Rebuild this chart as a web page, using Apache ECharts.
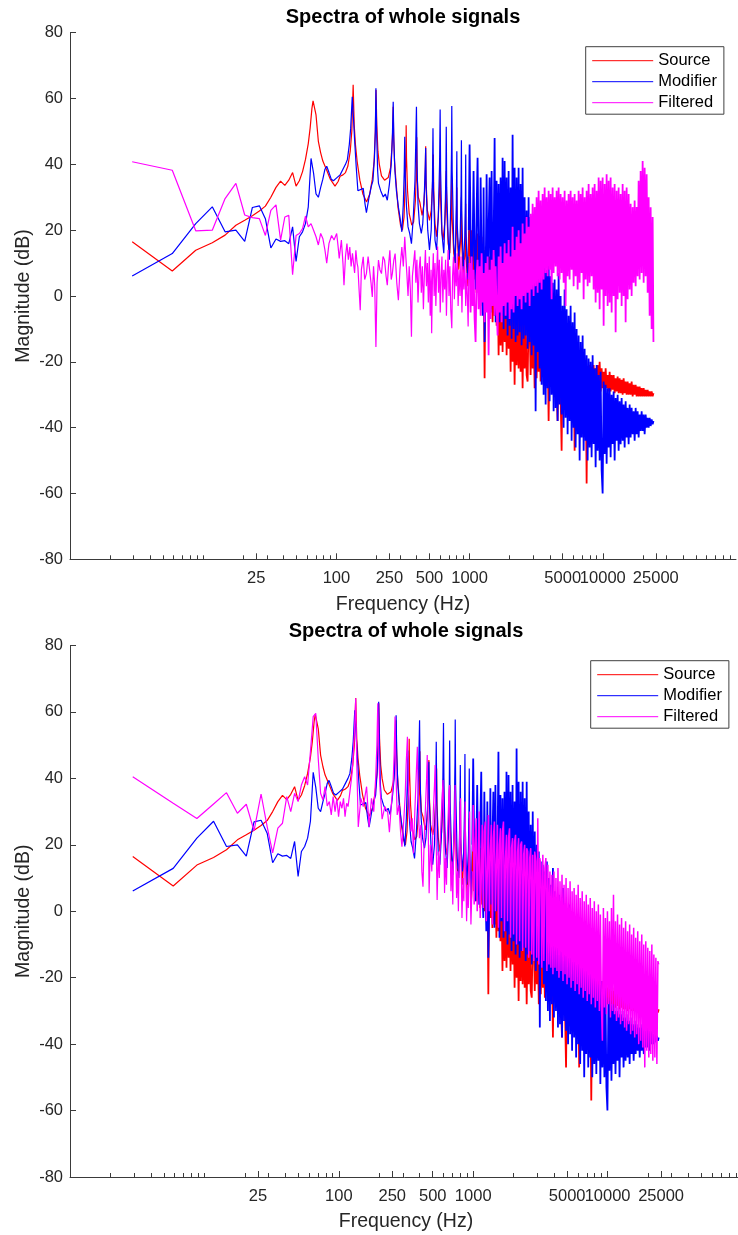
<!DOCTYPE html>
<html>
<head>
<meta charset="utf-8">
<title>Spectra of whole signals</title>
<script src="https://cdn.jsdelivr.net/npm/echarts@6/dist/echarts.min.js"></script>
<style>
  html, body { margin: 0; padding: 0; background: #ffffff; }
  #chart { width: 738px; height: 1235px; }
</style>
</head>
<body>
<div id="chart"></div>
<script>
// ---- axis ticks ----
const majorTicksHz = [25, 100, 250, 500, 1000, 5000, 10000, 25000];
const minorTicksHz = [2, 3, 4, 5, 6, 7, 8, 9, 10, 20, 30, 40, 50, 60, 70, 80, 90,
  200, 300, 400, 600, 700, 800, 900, 2000, 3000, 4000, 6000, 7000, 8000, 9000,
  20000, 30000, 40000, 50000, 60000, 70000, 80000, 90000];
const legendNames = ['Source', 'Modifier', 'Filtered'];

// ---- spectra below 1 kHz: [Hz, dB] ----
const sourceLow = [[2.93,16.5],[5.86,7.6],[8.79,13.9],[11.7,16.2],[14.6,18.5],[17.6,21.5],[20.5,23],[23.4,24.4],[26.4,25.8],[29.3,27.3],[32.2,30],[35.2,33],[38.1,34.9],[41,33.6],[43.9,35.2],[46.9,37.5],[49.8,33.4],[52.7,35],[55.7,37.8],[58.6,41.5],[61.5,46.3],[63.5,51],[65.5,57],[66.8,59.3],[68.5,59],[70.3,55],[73.2,47],[76.2,43.5],[79.1,41],[84.6,38.2],[90,35.5],[97.6,33.4],[103,34.8],[106.6,36.4],[112,36.8],[117,37.5],[122,39.5],[127,44],[130.5,50],[133.6,64.2],[136,52],[139,46],[143,41],[150,35.2],[158,31],[168.5,28.6],[178,31],[186,35.5],[192,41],[196,50],[198.4,62.6],[201,52],[205,44],[210,40],[218,36.5],[230,35.2],[245,36],[255,39],[261,45],[264.5,50],[266.8,57.5],[269,49],[273,41],[280,35],[290,27],[303,21.5],[313,20],[322,24],[329,36],[333,44],[334,51.9],[336,42],[342,32],[352,25],[368,21.5],[380,22.5],[392,29],[398,37],[401,48.2],[404,36],[412,30],[423,28.5],[440,24.5],[455,28],[464,36],[468,45.5],[471,35],[482,26],[500,23],[515,26],[526,33],[534,43],[538,32],[550,22],[565,18],[582,24],[594,32],[601,40],[605,30],[618,20],[632,17],[650,22],[662,30],[668,38],[672,27],[690,16],[710,13],[726,24],[735,36],[739,24],[760,13],[780,10],[795,22],[802,33],[806,20],[830,8],[855,17],[868,30],[872,16],[900,5],[925,14],[935,28],[940,12],[970,3],[990,12]];

const modifierLow = [[2.93,6.1],[5.86,12.9],[8.79,22],[11.7,27.1],[14.6,19.5],[17.6,20],[20.5,16.6],[23.4,26.9],[26.4,27.4],[29.3,23.5],[32.2,14.6],[35.2,17.3],[38.1,16.6],[41,16.8],[43.9,15.9],[46.9,21],[49.8,10.5],[52.7,18],[55.7,19.5],[58.6,22],[61.5,27.1],[64.5,41.8],[67.4,37.3],[70.3,31],[73.2,30],[76.2,33],[79.1,35.5],[82,38.5],[84.6,39.4],[88,37.5],[91.5,35.5],[95,35],[100,35.8],[106.6,36.8],[112,38.5],[117,40],[121,41.5],[125,46],[128,51],[131.5,60.5],[134,55],[137,47.3],[141,39],[145,32],[150,31.8],[159,32.7],[164,28],[168,25.3],[175,29.5],[183,33.4],[188,35],[193,42],[196,50],[198,63.1],[201,48],[204,38],[207,34.2],[215,32],[225,30.1],[233,31],[241,29.1],[250,34],[258,40],[263,48],[267,59],[270,47],[275,38],[282,32.1],[292,27],[300,24],[310,19.5],[318,28],[323,38],[326,48.4],[329,36],[336,27],[345,21],[355,19],[366,15.9],[378,24],[389,35],[395,48],[399,57.5],[403,40],[410,28],[420,22],[434,19],[445,22],[458,32],[465,40],[468,45],[472,33],[485,20],[500,14],[515,20],[526,35],[531,51],[536,32],[550,17],[565,14],[582,24],[595,40],[601,56.7],[606,38],[620,19],[640,13],[655,25],[664,38],[668,51.4],[673,33],[690,18],[705,11],[722,28],[732,45],[735,57.7],[740,38],[760,16],[780,10],[795,28],[802,44],[807,22],[830,12],[850,18],[863,32],[868,47.3],[873,26],[895,8],[920,18],[930,30],[935,43],[940,20],[965,5],[985,20]];

const filteredTopLow = [[2.93,40.8],[5.86,38.2],[8.79,19.8],[11.7,20],[14.6,29.6],[17.6,34.2],[20.5,24.6],[23.4,23.8],[26.4,23.5],[29.3,18.4],[32.2,26],[35.2,27.7],[38.1,17],[41,24],[43.9,24.5],[46.9,6.5],[49.8,18.4],[52.7,19],[55.7,20.5],[58.6,24.3],[61.5,21],[64.5,22],[67.4,20],[70.3,18],[73.2,15.5],[76.2,19],[79.1,17.5],[82,14],[84.6,10],[88,16],[92,18.4],[96,17],[100.5,19],[103,15],[105,11.4],[109,17],[112,10],[114,3.3],[117,12],[120,15.9],[123,11],[126,14.9],[129,9],[132,13],[134,12.9],[137,7],[140,13.9],[143,10],[145,8.8],[148,2],[151,-4.3],[154,8],[159,11.9],[163,5],[168,6.8],[173,12],[178,11.9],[182,4],[186,-0.3],[190,9],[194,3],[198,-15.5],[202,4],[207,10.9],[212,8],[218,6.8],[224,12],[230,10.9],[236,6],[241,3.3],[246,9],[252,13.9],[258,5],[263,6.8],[270,11],[276,12.9],[284,4],[292,-1.3],[300,8],[310,14.9],[318,9],[326,18],[332,12],[338,6.8],[345,0],[352,9],[359,2],[366,-12.4],[372,6],[380,10],[388,13.9],[395,4],[402,11],[410,-2],[418,8],[426,12],[434,1],[442,9],[450,-4],[458,7],[466,14],[474,3],[482,10],[490,-2],[498,12],[506,-6],[514,8],[519,-11.3],[526,5],[534,13],[542,0],[550,10],[558,-3],[566,7],[575,15],[584,1],[593,11],[602,-5],[611,6],[620,12],[630,-2],[640,8],[650,2],[660,11],[670,-6],[680,7],[690,14],[700,0],[711,9],[722,-4],[735,-9.8],[745,6],[757,12],[769,-1],[781,10],[794,3],[807,13],[820,-3],[834,8],[848,0],[862,12],[876,-5],[890,9],[905,2],[920,11],[935,-3],[950,7],[965,-2],[975,-9.3],[985,5]];

const filteredBottomLow = [[2.93,40.5],[5.86,32.5],[8.79,27.9],[11.7,32.3],[14.6,35.7],[17.6,29.5],[20.5,32.2],[23.4,24.2],[26.4,35.3],[29.3,25.5],[32.2,17.6],[35.2,25],[38.1,26.5],[41,34.5],[43.9,30],[46.9,35.5],[49.8,33],[52.7,38],[55.7,40.5],[58.6,38],[61.5,48],[64.5,58.6],[67.4,59.6],[70.3,46],[73.2,35.5],[76.2,33.5],[79.1,37.5],[82,31.7],[85,33],[87.9,29],[90.8,34.5],[93.8,30],[96.7,34],[99.6,28.5],[102.5,33],[105.5,31],[108.4,34],[111.3,28.5],[114.3,32.5],[117.2,31.5],[121,36],[126,42],[130,52],[133.6,64.1],[136,45],[139.6,25.4],[146,34],[152,31.5],[161,37.5],[168,25.4],[175,34],[182,30],[188,40],[192,50],[195,62.6],[199,45],[203,36.7],[210,27.7],[220,31.5],[231,29.8],[238,23.8],[246,32],[253,38],[258,47],[262,58.6],[266,42],[272,29],[280,32],[288,24],[295,19.4],[304,27],[312,35],[317,44],[324,52.5],[330,36],[337,29.3],[345,24],[352,28],[359,17.4],[368,30],[376,40],[384,49.5],[390,34],[398,22],[408,26],[415,12],[423,7.4],[432,22],[442,32],[450,40],[455,47],[460,33],[470,5.4],[480,20],[492,12],[505,30],[515,38],[521,44],[527,28],[539,3.4],[550,18],[560,10],[572,24],[585,33],[596,39.5],[603,26],[612,5.5],[622,16],[633,8],[642,22],[653,30],[660,36],[666,38],[672,22],[683,6],[694,15],[705,2],[716,20],[727,28],[733,38],[740,20],[752,4],[764,12],[776,0],[788,18],[800,30],[806,34],[812,15],[825,-2],[840,10],[852,3],[864,22],[872,33],[880,12],[893,-3],[908,8],[920,1],[933,20],[940,30],[948,10],[962,-4],[978,6],[990,18]];

// ---- 1 kHz to 24 kHz: shared frequency list (Hz) ----
const denseHz = [
  1000, 1017, 1035, 1053, 1071, 1090, 1109, 1128, 1148, 1168,
  1189, 1210, 1231, 1252, 1274, 1296, 1319, 1342, 1365, 1389,
  1413, 1438, 1463, 1488, 1514, 1541, 1568, 1595, 1623, 1651,
  1680, 1709, 1739, 1769, 1800, 1832, 1864, 1896, 1929, 1963,
  1997, 2032, 2067, 2103, 2140, 2177, 2215, 2254, 2293, 2333,
  2374, 2415, 2457, 2500, 2544, 2588, 2633, 2679, 2726, 2773,
  2822, 2871, 2921, 2972, 3024, 3077, 3131, 3185, 3241, 3297,
  3355, 3413, 3473, 3533, 3595, 3658, 3722, 3786, 3852, 3920,
  3988, 4058, 4128, 4200, 4273, 4348, 4424, 4501, 4579, 4659,
  4740, 4823, 4907, 4992, 5079, 5168, 5258, 5350, 5443, 5538,
  5635, 5733, 5833, 5935, 6039, 6144, 6251, 6360, 6471, 6584,
  6699, 6816, 6935, 7056, 7179, 7304, 7431, 7561, 7693, 7827,
  7964, 8103, 8244, 8388, 8534, 8683, 8834, 8988, 9145, 9305,
  9467, 9632, 9800, 9971, 10145, 10322, 10502, 10685, 10871, 11061,
  11254, 11450, 11650, 11853, 12060, 12270, 12484, 12702, 12923, 13149,
  13378, 13611, 13849, 14090, 14336, 14586, 14840, 15099, 15362, 15630,
  15904, 16181, 16463, 16751, 17043, 17340, 17642, 17950, 18263, 18581,
  18906, 19236, 19571, 19913, 20260, 20613, 20973, 21338, 21711, 22089,
  22475, 22867, 23265, 23671, 24000];

// dB at each denseHz entry
const sourceDense = [
  24, 6, 20, 3, 22, 5, 17, 1, 19, 2,
  16, 0, 18, -3, 14, -25, 15, -2, 12, -5,
  12, -4, 10, -8, 11, -6, 8, -9, 7, -18,
  6, -15, 5, -17, 4, -14, 3, -18, 2, -16,
  1, -23, 0, -20, -1, -27, -2, -21, -3, -22,
  -3, -23, -4, -28, -5, -22, -6, -24, -26, -7,
  -8, -24, -7, -22, -9, -28, -10, -25, -9, -23,
  -11, -26, -12, -24, -13, -27, -12, -25, -14, -38,
  -14, -26, -15, -27, -16, -28, -15, -29, -38, -17,
  -17, -30, -47, -18, -31, -18, -32, -19, -33, -18,
  -19, -34, -20, -35, -19, -47, -20, -36, -21, -35,
  -20, -36, -21, -34, -22, -38, -21, -57, -22, -33,
  -21, -45, -22, -31, -21, -30, -22, -29, -21, -30,
  -20, -29, -22, -28, -23, -29, -22, -28, -24, -29,
  -23, -29, -24, -28.5, -24, -29.5, -25, -29, -24.5, -29.5,
  -25, -29.5, -25.5, -30, -25, -29.5, -26, -30, -26, -30,
  -26.5, -30, -26, -30.5, -27, -30, -27, -30.5, -27.5, -30.5,
  -27.5, -30.5, -28, -30.5, -28, -30.5, -28.5, -30.5, -28.5, -30.5,
  -29, -30.5, -29, -30.5, -29.5];

const modifierDense = [
  46, 20, 3, 15, 38, 12, 2, 25, 42, 10,
  -2, 36, 8, -6, 33, -14, 5, 37, 2, 20,
  36, -5, 38, 0, 15, 48, -8, 35, -3, 34,
  -8, 36, -6, 42, -10, 41, -7, 36, -12, 38,
  -9, 33, -13, 49, -10, 39, -14, 36, -12, 39,
  -11, 34, -15, 39, -13, 30, -12, 26, -16, 30,
  -14, 24, -18, 20, -15, 18, -35, 15, -17, 14,
  -22, 12, -27, 15, -30, 10, -33, 8, -28, 13,
  -32, 6, -30, 4, -35, 5, -34, 2, -38, 7,
  -33, 0, -36, -3, -40, 2, -37, -4, -42, -6,
  -38, -3, -44, -8, -40, -5, -46, -10, -42, -12,
  -50, -14, -43, -12, -47, -16, -44, -18, -50, -19,
  -46, -20, -49, -18, -45, -22, -52, -21, -47, -24,
  -50, -23, -53, -60, -26, -48, -27, -51, -28, -46,
  -28, -49, -30, -45, -29, -50, -31, -44, -30, -47,
  -32, -45, -31, -44, -33, -46, -32, -43, -34, -45,
  -33, -43, -34, -42, -35, -44, -34, -42, -35, -43,
  -36, -41, -35, -41, -36, -42, -36, -40, -37, -40,
  -37, -39.5, -37.5, -39, -38];

const filteredTopDense = [
  10, -5, 12, -3, 8, -7, -14, 6, 11, -4,
  9, -6, 13, -2, 7, -8, 10, -5, 12, -18,
  8, -7, 11, -3, 14, -6, 9, -4, -12, 12,
  -5, 15, -8, 10, -3, 16, -6, 13, -2, 17,
  -7, 12, -4, 21, -5, 14, 0, 18, -3, 20,
  -1, 16, -4, 22, 0, 19, -2, 24, 1, 21,
  -3, 25, 2, 28, 0, 27, 3, 30, 1, 32,
  4, 29, 2, 31, 5, 33, 7, 30, 6, 32,
  8, 31, -1, 33, 7, 30, 9, 32, 6, 33,
  5, 31, 7, 30, 4, 32, -3, 29, 6, 31,
  5, 32, 8, 30, 3, 31, 6, 29, 2, 32,
  4, 31, 7, 33, -1, 30, 5, 32, 3, 34,
  4, 31, 6, 33, 2, 34, -2, 32, 1, 36,
  -4, 35, 2, 36, -9, 34, 0, 37, -3, 35,
  -2, 36, -5, 33, 0, 34, -11, 32, -1, 33,
  1, 31, -3, 34, 0, 32, -8, 33, -1, 31,
  2, 28, 0, 27, 4, 29, 3, 27, 6, 35,
  5, 38, 7, 41, 4, 39, 6, 37, 1, 30,
  -6, 27, -10, 24, -14];

const filteredBottomDense = [
  32, 2, 20, 28, 0, 15, 30, -2, 10, 26,
  1, 24, 27, -3, 12, 29, 0, 18, 26, -4,
  22, 27, 0, 14, 26, -5, 20, 25, -2, 24,
  27, -6, 16, 23, -3, 22, 25, -8, 19, 22,
  -7, 21, 23, -10, 18, 22, -9, 20, 21, -12,
  17, 20, -11, 19, 18, -14, 16, 19, -13, 17,
  -15, 18, 15, -14, 28, -16, 16, 14, -17, 17,
  -15, 13, 16, -18, 14, -16, 12, -17, 11, -19,
  12, -17, 10, -18, 13, -20, 9, -18, 11, -21,
  8, -19, 10, -22, 7, -20, 9, -23, 6, -21,
  7, -24, 5, -22, 8, -25, 4, -23, 6, -26,
  3, -24, 5, -27, 2, -25, 4, -28, 1, -26,
  3, -29, 0, -27, 2, -30, -1, -28, -39, 1,
  -29, -2, -31, 0, -28, -3, -32, 1, -30, 5,
  -31, -3, -33, -1, -32, -4, -34, -2, -33, -5,
  -35, -3, -36, -6, -34, -4, -37, -7, -36, -5,
  -38, -8, -37, -6, -40, -9, -39, -7, -41, -10,
  -47, -9, -42, -11, -44, -12, -43, -10, -45, -13,
  -44, -14, -46, -15, -16];

// ---- building the traces ----
function denseTrace(low, dense) {
  if (dense.length !== denseHz.length) {
    console.error('dense length mismatch', dense.length, denseHz.length);
  }
  // start from the last low-band point so the two parts join
  return [low[low.length - 1]].concat(denseHz.map((f, i) => [f, dense[i]]));
}

const FONT = "'Liberation Sans', Arial, Helvetica, sans-serif";
const AXIS_COLOR = '#3a3a3a';
const TEXT_COLOR = '#262626';
const COLORS = { Source: '#ff0000', Modifier: '#0000ff', Filtered: '#ff00ff' };

// plot areas of the two stacked panels
const panels = [
  { left: 70, top: 32.7, width: 666, height: 526.6, titleX: 403, titleY: 7,
    legend: { left: 585.7, top: 46.7 }, filteredLow: filteredTopLow,
    filteredDense: filteredTopDense, filteredWidth: 1.8 },
  { left: 70, top: 645.5, width: 672, height: 531.5, titleX: 406, titleY: 621,
    legend: { left: 590.7, top: 660.7 }, filteredLow: filteredBottomLow,
    filteredDense: filteredBottomDense, filteredWidth: 1.5 }
];

const grid = [], xAxis = [], yAxis = [], series = [], title = [], legend = [];

panels.forEach((p, i) => {
  grid.push({ left: p.left, top: p.top, width: p.width, height: p.height,
              containLabel: false, outerBoundsMode: 'none' });

  // labelled axis with long ticks
  xAxis.push({
    type: 'log', logBase: 10, gridIndex: i, min: 1, max: 100000, position: 'bottom',
    axisLine: { show: true, onZero: false, lineStyle: { color: AXIS_COLOR, width: 1 } },
    axisTick: { show: true, inside: true, length: 6, customValues: majorTicksHz,
                lineStyle: { color: AXIS_COLOR, width: 1 } },
    axisLabel: { show: true, customValues: majorTicksHz, margin: 11, fontSize: 16.5,
                 color: TEXT_COLOR, fontFamily: FONT,
                 formatter: v => String(Math.round(v)) },
    splitLine: { show: false },
    name: 'Frequency (Hz)', nameLocation: 'middle', nameGap: 35, nameMoveOverlap: false,
    nameTextStyle: { fontSize: 19.5, color: TEXT_COLOR, fontFamily: FONT }
  });
  // short minor ticks
  xAxis.push({
    type: 'log', logBase: 10, gridIndex: i, min: 1, max: 100000, position: 'bottom',
    axisLine: { show: false, onZero: false },
    axisTick: { show: true, inside: true, length: 4, customValues: minorTicksHz,
                lineStyle: { color: AXIS_COLOR, width: 1 } },
    axisLabel: { show: false },
    splitLine: { show: false }
  });

  yAxis.push({
    type: 'value', gridIndex: i, min: -80, max: 80, interval: 20,
    axisLine: { show: true, onZero: false, lineStyle: { color: AXIS_COLOR, width: 1 } },
    axisTick: { show: true, inside: true, length: 6, lineStyle: { color: AXIS_COLOR, width: 1 } },
    axisLabel: { margin: 7, fontSize: 16.5, color: TEXT_COLOR, fontFamily: FONT },
    splitLine: { show: false },
    name: 'Magnitude (dB)', nameLocation: 'middle', nameGap: 36, nameRotate: 90,
    nameMoveOverlap: false,
    nameTextStyle: { fontSize: 19.5, color: TEXT_COLOR, fontFamily: FONT }
  });

  title.push({
    text: 'Spectra of whole signals', left: p.titleX, top: p.titleY, textAlign: 'center',
    padding: 0,
    textStyle: { fontSize: 20, fontWeight: 'bold', color: '#000000', fontFamily: FONT }
  });

  legend.push({
    data: legendNames, orient: 'vertical', left: p.legend.left, top: p.legend.top,
    itemWidth: 61, itemHeight: 14, itemGap: 4, padding: [5.5, 7, 3, 6],
    borderColor: '#404040', borderWidth: 1, backgroundColor: '#ffffff',
    selectedMode: false,
    itemStyle: { opacity: 0, borderWidth: 0 },
    lineStyle: { width: 1 },
    textStyle: { fontSize: 16.5, color: '#000000', fontFamily: FONT }
  });

  const parts = {
    Source: [sourceLow, sourceDense, 1.8],
    Modifier: [modifierLow, modifierDense, 1.8],
    Filtered: [p.filteredLow, p.filteredDense, p.filteredWidth]
  };
  legendNames.forEach(name => {
    const [low] = parts[name];
    // resolved low-frequency part
    series.push({
      name, type: 'line', xAxisIndex: i * 2, yAxisIndex: i,
      data: low, symbol: 'none', showSymbol: false, clip: true,
      lineStyle: { color: COLORS[name], width: 1.2 },
      itemStyle: { color: COLORS[name] },
      emphasis: { disabled: true }, z: 2
    });
  });
  legendNames.forEach(name => {
    const [low, dense, width] = parts[name];
    // densely packed bins above 1 kHz
    series.push({
      name, type: 'line', xAxisIndex: i * 2, yAxisIndex: i,
      data: denseTrace(low, dense), symbol: 'none', showSymbol: false, clip: true,
      lineStyle: { color: COLORS[name], width },
      itemStyle: { color: COLORS[name] },
      emphasis: { disabled: true }, z: 2
    });
  });
});

const chart = echarts.init(document.getElementById('chart'), null, { renderer: 'canvas' });
chart.setOption({
  animation: false,
  backgroundColor: '#ffffff',
  textStyle: { fontFamily: FONT },
  title, legend, grid, xAxis, yAxis, series
});
</script>
</body>
</html>
